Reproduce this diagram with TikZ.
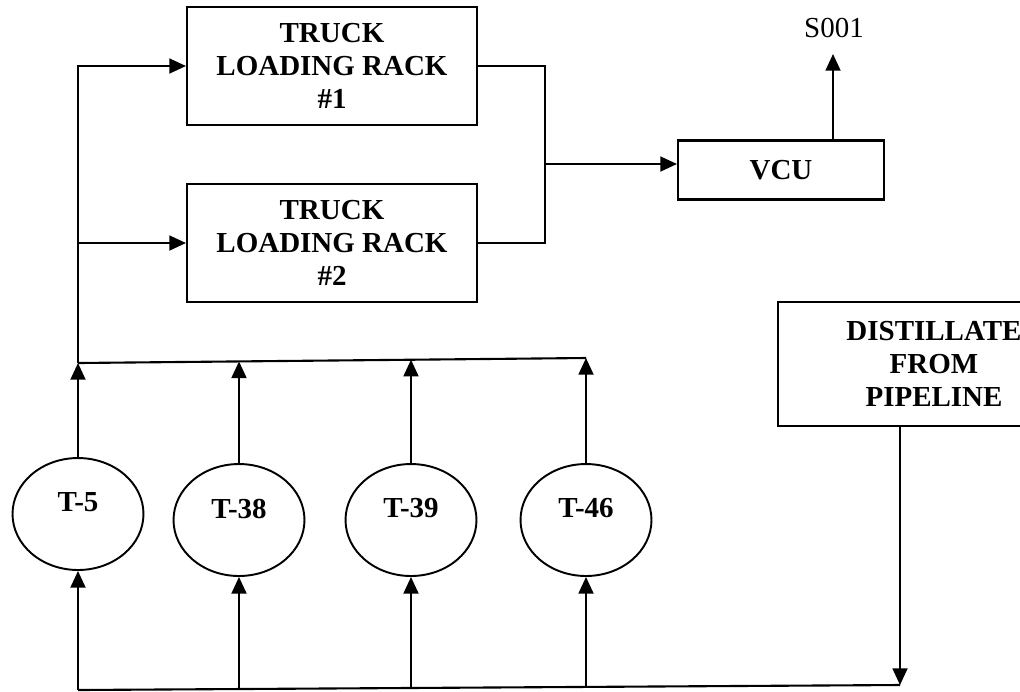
\documentclass[tikz,border=0pt]{standalone}
\usepackage{fontspec}
\setmainfont{Liberation Serif}
\usepackage{tikz}
\usetikzlibrary{shapes.geometric, arrows.meta, positioning, calc}
\tikzset{
  unit/.style={rectangle, draw, line width=1.2pt, align=center,
    font=\fontsize{16.5}{18.7}\selectfont\bfseries},
  tank/.style={ellipse, draw, line width=1.1pt, minimum width=2.62cm,
    minimum height=2.24cm,
    label={[font=\fontsize{16.5}{18.7}\selectfont\bfseries, yshift=0.23cm]center:#1}},
  arrow/.style={-{Triangle[length=9.5pt, width=8.5pt]}, line width=1.2pt},
  line/.style={line width=1.2pt}
}
\begin{document}
\begin{tikzpicture}[x=0.02cm, y=-0.02cm]
  \path[use as bounding box, clip] (0,0) rectangle (1020,691);
  % Units
  \node[unit, minimum width=5.8cm, minimum height=2.36cm] (rackA) at (332,66)
    {TRUCK\\LOADING RACK\\\#1};
  \node[unit, minimum width=5.8cm, minimum height=2.36cm] (rackB) at (332,243)
    {TRUCK\\LOADING RACK\\\#2};
  \node[unit, minimum width=4.12cm, minimum height=1.18cm] (vcu) at (781,170) {VCU};
  \node[unit, minimum width=6.24cm, minimum height=2.48cm] (pipe) at (934,364)
    {DISTILLATE\\FROM\\PIPELINE};
  \node[font=\fontsize{16.5}{18.7}\selectfont] (s001) at (834,28) {S001};
  % Tanks
  \node[tank=T-5] (t5) at (78,514) {};
  \node[tank=T-38] (t38) at (239,520) {};
  \node[tank=T-39] (t39) at (411,520) {};
  \node[tank=T-46] (t46) at (586,520) {};
  % Junctions
  \coordinate (up5) at (78,363);
  \coordinate (up38) at (239,361.4);
  \coordinate (up39) at (411,359.7);
  \coordinate (up46) at (586,358);
  \coordinate (dn5) at (78,690);
  \coordinate (dn38) at (239,689);
  \coordinate (dn39) at (411,688);
  \coordinate (dn46) at (586,686.9);
  \coordinate (dnend) at (900,685);
  \coordinate (mrg) at (545,164);
  \coordinate (stack) at (833,54);
  % Loading header
  \draw[line] (up5) -- (up46);
  \draw[arrow] (up5) |- (rackA.west);
  \draw[arrow] (up5 |- rackB.west) -- (rackB.west);
  \draw[line] (rackA.east) -| (mrg) |- (rackB.east);
  \draw[arrow] (mrg) -- (mrg -| vcu.west);
  \draw[arrow] (vcu.north -| stack) -- (stack);
  % Tank outlets
  \draw[arrow] (t5.north) -- (up5);
  \draw[arrow] (t38.north) -- (up38);
  \draw[arrow] (t39.north) -- (up39);
  \draw[arrow] (t46.north) -- (up46);
  % Pipeline feed
  \draw[arrow] (pipe.south -| dnend) -- (dnend);
  \draw[line] (dn5) -- (dnend);
  \draw[arrow] (dn5) -- (t5.south);
  \draw[arrow] (dn38) -- (t38.south);
  \draw[arrow] (dn39) -- (t39.south);
  \draw[arrow] (dn46) -- (t46.south);
\end{tikzpicture}
\end{document}
